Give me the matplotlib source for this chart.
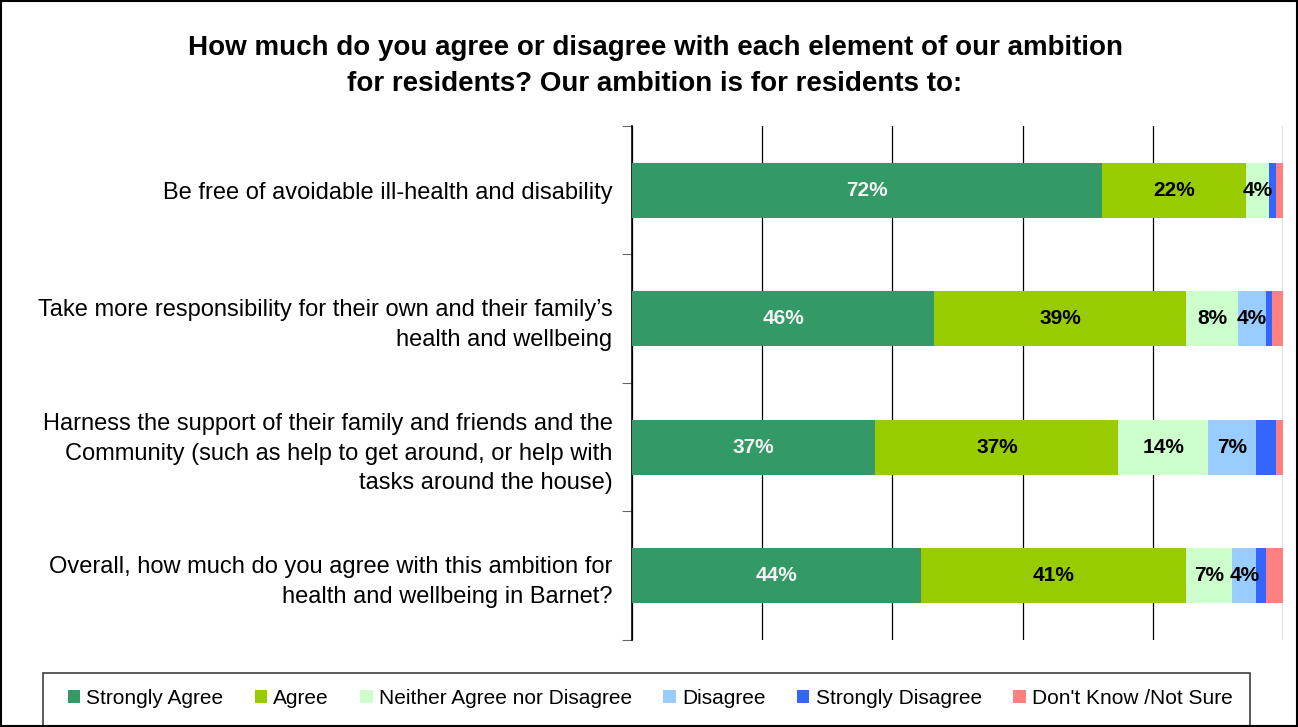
import matplotlib.pyplot as plt
from matplotlib.patches import Rectangle
import numpy as np

plt.rcParams['font.family'] = ['Liberation Sans', 'DejaVu Sans']

categories = [
    'Be free of avoidable ill-health and disability',
    'Take more responsibility for their own and their family\u2019s\nhealth and wellbeing',
    'Harness the support of their family and friends and the\nCommunity (such as help to get around, or help with\ntasks around the house)',
    'Overall, how much do you agree with this ambition for\nhealth and wellbeing in Barnet?',
]
series = ['Strongly Agree', 'Agree', 'Neither Agree nor Disagree',
          'Disagree', 'Strongly Disagree', "Don't Know /Not Sure"]
strongly_agree = [72.2, 46.4, 37.4, 44.4]
agree = [22.1, 38.7, 37.3, 40.7]
neither = [3.5, 8.0, 13.8, 7.1]
disagree = [0.0, 4.3, 7.4, 3.7]
strongly_disagree = [1.1, 0.9, 3.0, 1.5]
dont_know = [1.1, 1.7, 1.1, 2.6]
colors = ['#339966', '#99CC00', '#CCFFCC', '#99CCFF', '#3366FF', '#FF8080']
text_colors = ['#F2F2F2', 'black', 'black', 'black', 'black', 'black']

values = [strongly_agree, agree, neither, disagree, strongly_disagree, dont_know]

fig = plt.figure(figsize=(12.98, 7.27), dpi=100)
ax = fig.add_axes([632 / 1298, 1 - 640 / 727, 651 / 1298, 514 / 727])

y = np.arange(len(categories))
left = np.zeros(len(categories))
for name, vals, col, tc in zip(series, values, colors, text_colors):
    vals = np.array(vals)
    ax.barh(y, vals, left=left, height=0.43, color=col, label=name, zorder=3)
    for yi, v, l in zip(y, vals, left):
        if v >= 3.4:
            ax.text(l + v / 2, yi, f'{round(v):.0f}%', ha='center', va='center',
                    fontsize=15, fontweight='bold', color=tc, zorder=4)
    left += vals

ax.set_xlim(0, 100)
ax.set_ylim(len(categories) - 0.5, -0.5)
ax.set_xticks([0, 20, 40, 60, 80, 100])
ax.xaxis.grid(True, color='black', linewidth=0.9, zorder=0)
ax.tick_params(axis='x', length=0, labelbottom=False)
ax.set_yticks(np.arange(-0.5, len(categories), 1.0))
ax.set_yticklabels([])
ax.set_yticks(y, minor=True)
ax.set_yticklabels(categories, minor=True, fontsize=17, linespacing=1.45)
ax.tick_params(axis='y', which='major', length=7, direction='out', color='#666666')
ax.tick_params(axis='y', which='minor', length=0, pad=14)
for s in ['top', 'right', 'bottom']:
    ax.spines[s].set_visible(False)
ax.spines['left'].set_linewidth(1.2)

fig.text(655 / 1298, 1 - 66 / 727,
         'How much do you agree or disagree with each element of our ambition\nfor residents? Our ambition is for residents to:',
         ha='center', va='center', fontsize=20, fontweight='bold', linespacing=1.5)

# legend box
fig.patches.append(Rectangle((43 / 1298, -0.02), (1250 - 43) / 1298, (727 - 673) / 727 + 0.02,
                             transform=fig.transFigure, fill=False, edgecolor='#404040',
                             linewidth=1.2))
fig.legend(loc='center', bbox_to_anchor=(650 / 1298, 1 - 698 / 727), ncol=6,
           frameon=False, fontsize=15, handlelength=0.6, handleheight=0.6,
           handletextpad=0.3, columnspacing=1.5)

# outer border
fig.patches.append(Rectangle((0.001, 0.001), 0.998, 0.997, transform=fig.transFigure,
                             fill=False, edgecolor='black', linewidth=1.5))

fig.savefig('out.png', dpi=100)
